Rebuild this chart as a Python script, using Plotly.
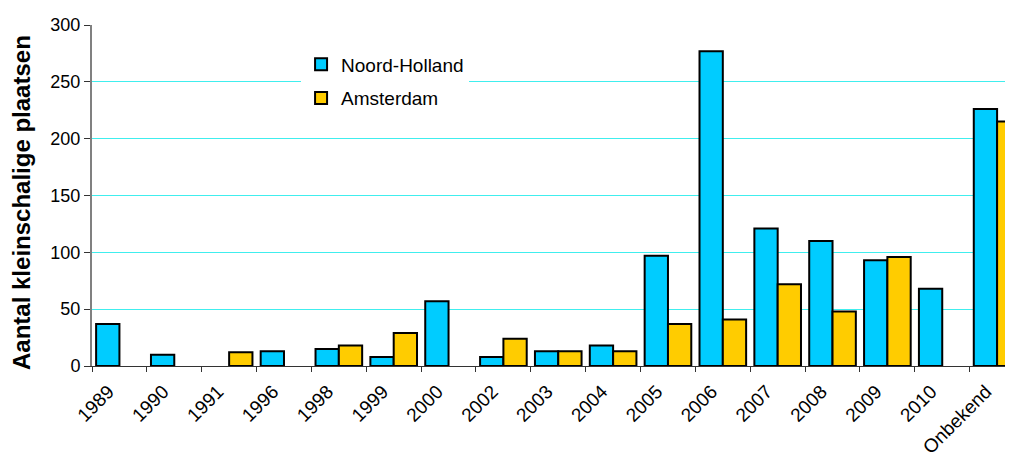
import plotly.graph_objects as go

categories = ["1989", "1990", "1991", "1996", "1998", "1999", "2000", "2002", "2003",
              "2004", "2005", "2006", "2007", "2008", "2009", "2010", "Onbekend"]
noord_holland = [37, 10, None, 13, 15, 8, 57, 8, 13, 18, 97, 277, 121, 110, 93, 68, 226]
amsterdam = [None, None, 12, None, 18, 29, None, 24, 13, 13, 37, 41, 72, 48, 96, None, 215]
y_ticks = [0, 50, 100, 150, 200, 250, 300]
y_title = "Aantal kleinschalige plaatsen"

font = "Liberation Sans, Arial, sans-serif"

fig = go.Figure()
fig.add_trace(go.Bar(name="Noord-Holland", x=categories, y=noord_holland, legendgroup="nh",
                     marker=dict(color="#00CCFF", line=dict(color="#000000", width=2))))
fig.add_trace(go.Bar(name="Amsterdam", x=categories, y=amsterdam, legendgroup="ams",
                     marker=dict(color="#FFCC00", line=dict(color="#000000", width=2))))

fig.update_layout(
    width=1005, height=450,
    margin=dict(l=84, r=0, t=17, b=92, autoexpand=False),
    paper_bgcolor="white", plot_bgcolor="white",
    barmode="group", bargap=0.15, bargroupgap=0,
    font=dict(family=font, color="#000000"),
    legend=dict(x=0.227, y=0.94, xanchor="left", yanchor="top",
                bgcolor="white", font=dict(size=19, family=font),
                itemsizing="constant", traceorder="grouped", tracegroupgap=6, itemwidth=30),
    showlegend=True,
    annotations=[dict(text="<b>" + y_title + "</b>", textangle=-90,
                      xref="paper", yref="paper", x=0, y=0.478,
                      xanchor="center", yanchor="middle", xshift=-71, showarrow=False,
                      font=dict(size=24, family=font, color="#000000"))],
)
fig.update_xaxes(
    type="category", range=[-0.5, 16.29],
    tickson="boundaries", ticks="outside", ticklen=5, tickcolor="#333333",
    tickangle=-45, tickfont=dict(size=19, family=font),
    ticklabelshift=-11, ticklabelstandoff=6,
    showline=True, linecolor="#333333", linewidth=1,
    showgrid=False, automargin=False,
)
fig.update_yaxes(
    range=[0, 300], tickvals=y_ticks,
    ticks="outside", ticklen=6, tickcolor="#333333",
    tickfont=dict(size=18, family=font),
    showline=True, linecolor="#808080", linewidth=2,
    showgrid=True, gridcolor="#40EEEE", gridwidth=1,
    zeroline=False, automargin=False,
)

fig.write_html("out.html")
